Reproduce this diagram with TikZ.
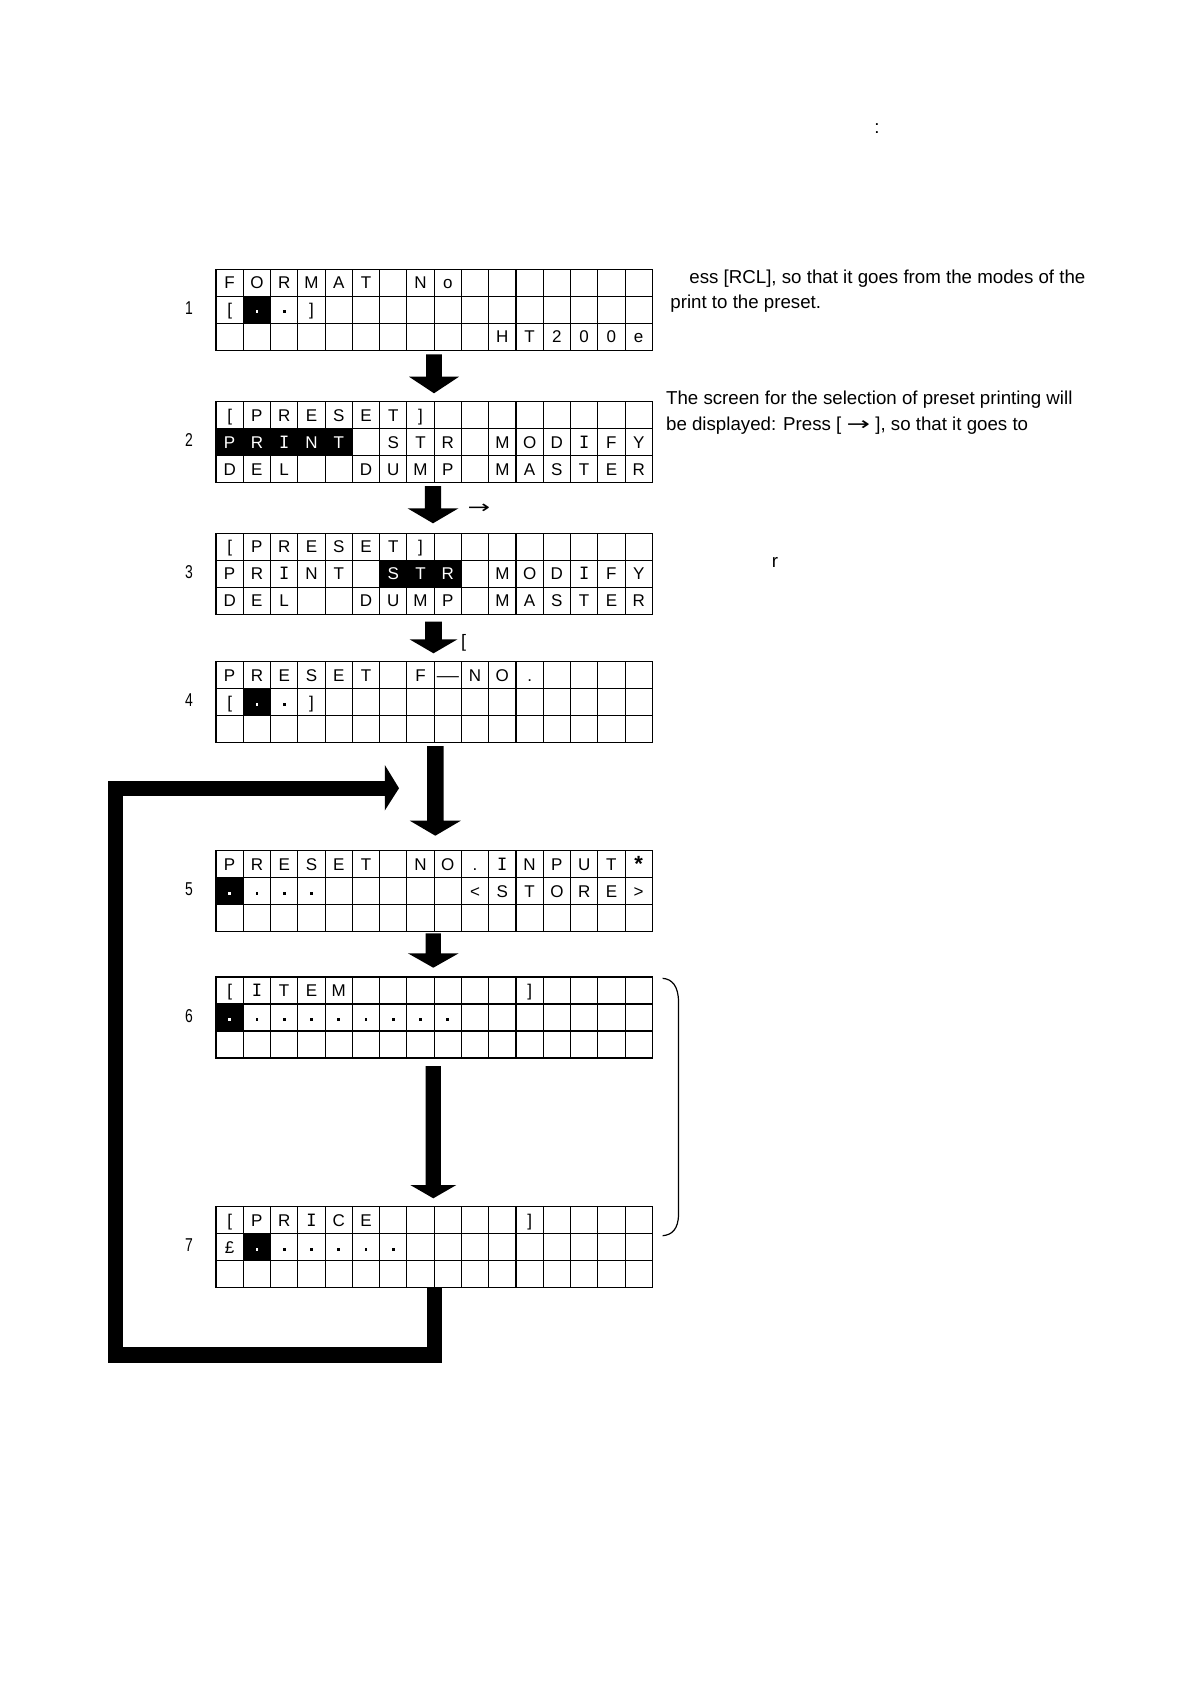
\documentclass[tikz,border=0pt]{standalone}
\usepackage{fontspec}
\usepackage{graphicx}
\setmainfont{Liberation Sans}
\newfontfamily\dvmono{DejaVu Sans Mono}
\newfontfamily\dvsans{DejaVu Sans}
\newcommand\cw{27.27}
\newcommand\chh{27}
\tikzset{
  cellchar/.style={font=\fontsize{8.5}{9}\selectfont, anchor=base, inner sep=0pt},
  numlabel/.style={font=\fontsize{9.3}{10}\selectfont, anchor=base, inner sep=0pt},
  bodytext/.style={font=\fontsize{9.35}{11}\selectfont, anchor=base west, inner sep=0pt},
  screenbox/.style={draw, line width=0.55pt, minimum width=218.16pt, minimum height=40.5pt, anchor=north west, inner sep=0pt, outer sep=0pt},
  gridline/.style={line width=0.55pt},
  blockarrow/.style={fill=black, draw=none},
  loopline/.style={line width=7.6pt, line join=miter},
  bracketline/.style={line width=0.6pt},
}
\newcommand\lcdblk[3]{\fill ({#2*\cw},{#1*\chh}) rectangle ({(#3+1)*\cw},{(#1+1)*\chh});}
\newcommand\lcdch[3]{\node[cellchar] at ({(#2+0.5)*\cw},{(#1+0.5)*\chh+6}) {#3};}
\newcommand\lcdwh[3]{\node[cellchar,text=white] at ({(#2+0.5)*\cw},{(#1+0.5)*\chh+6}) {#3};}
\newcommand\lcddot[2]{\fill ({(#2+0.5)*\cw-1.4},{(#1+0.5)*\chh+0.6}) rectangle ++(2.8,2.8);}
\newcommand\lcdwdot[2]{\fill[white] ({(#2+0.5)*\cw-1.4},{(#1+0.5)*\chh+0.6}) rectangle ++(2.8,2.8);}
\newcommand\lcdgrid{%
  \foreach \i in {1,...,15}{\draw[gridline] ({\i*\cw},0) -- ({\i*\cw},81);}%
  \draw[gridline] (0,27) -- ({16*\cw},27);%
  \draw[gridline] (0,54) -- ({16*\cw},54);}
% x, top of shaft, start of head, tip, half shaft, half head
\newcommand\dnarrow[6]{\fill[blockarrow] (#1-#5,#2) -- (#1+#5,#2) -- (#1+#5,#3) -- (#1+#6,#3) -- (#1,#4) -- (#1-#6,#3) -- (#1-#5,#3) -- cycle;}
\newcommand\II{{\dvmono I}}
\newcommand\longarr{\scalebox{1.5}[1]{\dvsans →}}
\begin{document}
\begin{tikzpicture}[x=0.5pt,y=-0.5pt]
\useasboundingbox (0,0) rectangle (1190,1684);
\fill[white] (0,0) rectangle (1190,1684);

% ---------- screen 1
\begin{scope}[shift={(216,269.3)}]
  \lcdblk{1}{1}{1}
  \lcdgrid
  \foreach \c/\t in {0/F,1/O,2/R,3/M,4/A,5/T,7/N,8/o}{\lcdch{0}{\c}{\t}}
  \lcdch{1}{0}{[}\lcdwdot{1}{1}\lcddot{1}{2}\lcdch{1}{3}{]}
  \foreach \c/\t in {10/H,11/T,12/2,13/0,14/0,15/e}{\lcdch{2}{\c}{\t}}
\end{scope}
\node[screenbox] (s1) at (216,269.3) {};
\node[numlabel] (n1) at (189,314.5) {\scalebox{0.75}[1]{1}};

% ---------- screen 2
\begin{scope}[shift={(216,401.7)}]
  \lcdblk{1}{0}{4}
  \lcdgrid
  \foreach \c/\t in {0/[,1/P,2/R,3/E,4/S,5/E,6/T,7/]}{\lcdch{0}{\c}{\t}}
  \foreach \c/\t in {0/P,1/R,2/\II,3/N,4/T}{\lcdwh{1}{\c}{\t}}
  \foreach \c/\t in {6/S,7/T,8/R,10/M,11/O,12/D,13/\II,14/F,15/Y}{\lcdch{1}{\c}{\t}}
  \foreach \c/\t in {0/D,1/E,2/L,5/D,6/U,7/M,8/P,10/M,11/A,12/S,13/T,14/E,15/R}{\lcdch{2}{\c}{\t}}
\end{scope}
\node[screenbox] (s2) at (216,401.7) {};
\node[numlabel] (n2) at (189,446.7) {\scalebox{0.75}[1]{2}};

% ---------- screen 3
\begin{scope}[shift={(216,533.3)}]
  \lcdblk{1}{6}{8}
  \lcdgrid
  \foreach \c/\t in {0/[,1/P,2/R,3/E,4/S,5/E,6/T,7/]}{\lcdch{0}{\c}{\t}}
  \foreach \c/\t in {0/P,1/R,2/\II,3/N,4/T,10/M,11/O,12/D,13/\II,14/F,15/Y}{\lcdch{1}{\c}{\t}}
  \foreach \c/\t in {6/S,7/T,8/R}{\lcdwh{1}{\c}{\t}}
  \foreach \c/\t in {0/D,1/E,2/L,5/D,6/U,7/M,8/P,10/M,11/A,12/S,13/T,14/E,15/R}{\lcdch{2}{\c}{\t}}
\end{scope}
\node[screenbox] (s3) at (216,533.3) {};
\node[numlabel] (n3) at (189,578.3) {\scalebox{0.75}[1]{3}};

% ---------- screen 4
\begin{scope}[shift={(216,661.7)}]
  \lcdblk{1}{1}{1}
  \lcdgrid
  \foreach \c/\t in {0/P,1/R,2/E,3/S,4/E,5/T,7/F,9/N,10/O,11/.}{\lcdch{0}{\c}{\t}}
  \lcdch{0}{8}{\scalebox{1.3}[1]{—}}
  \lcdch{1}{0}{[}\lcdwdot{1}{1}\lcddot{1}{2}\lcdch{1}{3}{]}
\end{scope}
\node[screenbox] (s4) at (216,661.7) {};
\node[numlabel] (n4) at (189,706.7) {\scalebox{0.75}[1]{4}};

% ---------- screen 5
\begin{scope}[shift={(216,850.7)}]
  \lcdblk{1}{0}{0}
  \lcdgrid
  \foreach \c/\t in {0/P,1/R,2/E,3/S,4/E,5/T,7/N,8/O,9/.,10/\II,11/N,12/P,13/U,14/T}{\lcdch{0}{\c}{\t}}
  \node[cellchar] at ({15.5*\cw},{0.5*\chh+7.5}) {\fontsize{11}{11}\selectfont\textbf{*}};
  \lcdwdot{1}{0}\lcddot{1}{1}\lcddot{1}{2}\lcddot{1}{3}
  \foreach \c/\t in {9/<,10/S,11/T,12/O,13/R,14/E,15/>}{\lcdch{1}{\c}{\t}}
\end{scope}
\node[screenbox] (s5) at (216,850.7) {};
\node[numlabel] (n5) at (189,895.7) {\scalebox{0.75}[1]{5}};

% ---------- screen 6
\begin{scope}[shift={(216,977)}]
  \lcdblk{1}{0}{0}
  \lcdgrid
  \foreach \c/\t in {0/[,1/\II,2/T,3/E,4/M,11/]}{\lcdch{0}{\c}{\t}}
  \lcdwdot{1}{0}
  \foreach \c in {1,...,8}{\lcddot{1}{\c}}
\end{scope}
\node[screenbox] (s6) at (216,977) {};
\node[numlabel] (n6) at (189,1022) {\scalebox{0.75}[1]{6}};

% ---------- screen 7
\begin{scope}[shift={(216,1206.7)}]
  \lcdblk{1}{1}{1}
  \lcdgrid
  \foreach \c/\t in {0/[,1/P,2/R,3/\II,4/C,5/E,11/]}{\lcdch{0}{\c}{\t}}
  \lcdch{1}{0}{£}
  \lcdwdot{1}{1}
  \foreach \c in {2,...,6}{\lcddot{1}{\c}}
\end{scope}
\node[screenbox] (s7) at (216,1206.7) {};
\node[numlabel] (n7) at (189,1251.7) {\scalebox{0.75}[1]{7}};

% ---------- block arrows between screens
\dnarrow{434}{354.3}{376.7}{393.3}{7.8}{25}
\dnarrow{433}{486}{508.3}{523.3}{8.2}{25.5}
\dnarrow{433.5}{621.7}{639.3}{653.3}{8.3}{24}
\dnarrow{435.3}{746}{820.7}{835.7}{8.3}{25.5}
\dnarrow{433.3}{933.3}{953.3}{967.7}{7.6}{25.4}
\dnarrow{433.3}{1066}{1185}{1198.3}{7.6}{23}

% ---------- loop back from screen 7 to the arrow into screen 5
\coordinate (loopA) at (434.2,1287.3);
\coordinate (loopB) at (434.2,1355);
\coordinate (loopC) at (115.2,1355);
\coordinate (loopD) at (115.2,788.2);
\coordinate (loopE) at (385.5,788.2);
\draw[loopline] (loopA) -- (loopB) -- (loopC) -- (loopD) -- (loopE);
\fill[blockarrow] (384.8,765) -- (399,788.2) -- (384.8,810.5) -- cycle;

% ---------- bracket at right of screens 6-7
\draw[bracketline] (662.6,978.3) .. controls (672,979) and (678.5,986) .. (678.5,1002) -- (678.5,1214) .. controls (678.5,1229) and (672,1235) .. (662.6,1235.7);

% ---------- small labels next to arrows
\node[font=\fontsize{9}{9}\selectfont, inner sep=0pt] (arlab) at (479,508.5) {\longarr};
\node[font=\fontsize{9}{9}\selectfont, inner sep=0pt, anchor=base] (brlab) at (463.5,647) {[};

% ---------- explanatory text
\node[bodytext] (t0) at (874,134) {:};
\node[bodytext] (t1) at (689,283.3) {ess [RCL], so that it goes from the modes of the};
\node[bodytext] (t2) at (670,308.3) {print to the preset.};
\node[bodytext] (t3) at (665.7,405) {The screen for the selection of preset printing will};
\node[bodytext] (t4) at (665.7,430) {be displayed: Press [ \longarr\ ], so that it goes to};
\node[bodytext] (t5) at (771.5,567.3) {r};
\end{tikzpicture}
\end{document}
